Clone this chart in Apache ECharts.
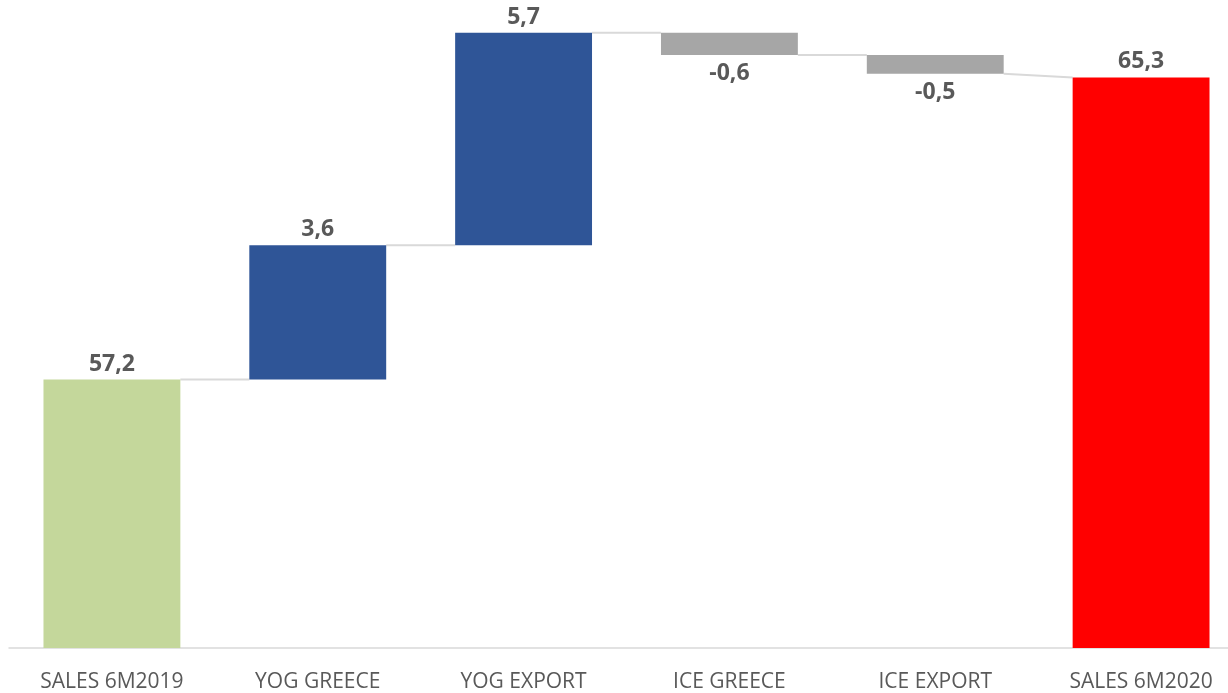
<!DOCTYPE html>
<html>
<head>
<meta charset="utf-8">
<script src="https://cdn.jsdelivr.net/npm/echarts@6/dist/echarts.min.js"></script>
<style>
html,body{margin:0;padding:0;background:#fff;overflow:hidden;width:1228px;height:693px;}
#chart{width:1244px;height:693px;}
</style>
</head>
<body>
<div id="chart"></div>
<script>
const categories = ['SALES 6M2019', 'YOG GREECE', 'YOG EXPORT', 'ICE GREECE', 'ICE EXPORT', 'SALES 6M2020'];
const values = [57.2, 3.6, 5.7, -0.6, -0.5, 65.3];
const isTotal = [true, false, false, false, false, true];

const barColors = ['#C4D79B', '#2F5597', '#2F5597', '#A6A6A6', '#A6A6A6', '#FF0000'];

// build waterfall structure
const baseData = [], barData = [], ends = [];
let running = 0;
values.forEach((v, i) => {
  if (isTotal[i]) {
    baseData.push(0);
    barData.push(v);
    running = v;
  } else {
    const start = running, end = running + v;
    baseData.push(Math.min(start, end));
    barData.push(Math.abs(v));
    running = end;
  }
  ends.push(running);
});
const connectors = [];
for (let i = 0; i < values.length - 1; i++) {
  const from = ends[i];
  const to = isTotal[i + 1] ? values[i + 1] : ends[i];
  connectors.push([i, from, to]);
}
const fmt = v => v.toFixed(1).replace('.', ',');

const chart = echarts.init(document.getElementById('chart'), null, {renderer: 'canvas'});
chart.setOption({
  animation: false,
  backgroundColor: '#ffffff',
  grid: {left: 9, top: 14, right: 0, bottom: 45, containLabel: false},
  xAxis: {
    type: 'category',
    data: categories,
    axisLine: {show: true, lineStyle: {color: '#D9D9D9', width: 1.5}},
    axisTick: {show: false},
    axisLabel: {color: '#595959', fontSize: 21, fontFamily: 'Open Sans', margin: 24}
  },
  yAxis: {
    type: 'value', min: 50, max: 67, show: false,
    splitLine: {show: false}
  },
  series: [
    {
      type: 'bar', stack: 'w', data: baseData, barWidth: '66.5%',
      itemStyle: {color: 'transparent'}, silent: true
    },
    {
      type: 'bar', stack: 'w', barWidth: '66.5%', clip: true,
      data: barData.map((h, i) => ({
        value: h,
        itemStyle: {color: barColors[i]},
        label: {
          show: true,
          position: values[i] < 0 ? 'bottom' : 'top',
          distance: values[i] < 0 ? 7 : 4,
          formatter: () => fmt(values[i]),
          color: '#595959', fontSize: 23, fontWeight: 'bold', fontFamily: 'Open Sans'
        }
      }))
    },
    {
      type: 'custom',
      data: connectors,
      encode: {x: 0, y: [1, 2]},
      z: 1,
      renderItem: function (params, api) {
        const i = api.value(0);
        const w = api.size([1, 0])[0] * 0.665;
        const p1 = api.coord([i, api.value(1)]);
        const p2 = api.coord([i + 1, api.value(2)]);
        return {
          type: 'line',
          shape: {x1: p1[0] + w / 2, y1: p1[1], x2: p2[0] - w / 2, y2: p2[1]},
          style: {stroke: '#D9D9D9', lineWidth: 2}
        };
      }
    }
  ]
});
</script>
</body>
</html>
